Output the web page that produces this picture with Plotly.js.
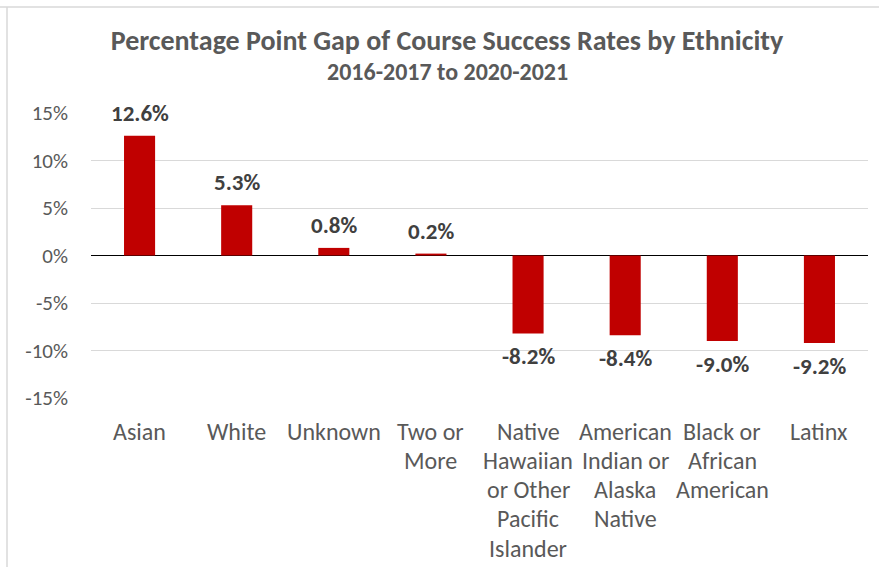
<!DOCTYPE html>
<html>
<head>
<meta charset="utf-8">
<script src="https://cdn.plot.ly/plotly-3.0.1.min.js"></script>
<style>html,body{margin:0;padding:0;background:#fff;}#chart{width:879px;height:567px;}</style>
</head>
<body>
<div id="chart"></div>
<script>
const categories = ["Asian", "White", "Unknown", "Two or More", "Native Hawaiian or Other Pacific Islander", "American Indian or Alaska Native", "Black or African American", "Latinx"];
const categoryLines = [["Asian"], ["White"], ["Unknown"], ["Two or", "More"], ["Native", "Hawaiian", "or Other", "Pacific", "Islander"], ["American", "Indian or", "Alaska", "Native"], ["Black or", "African", "American"], ["Latinx"]];
const gapValues = [12.6, 5.3, 0.8, 0.2, -8.2, -8.4, -9.0, -9.2];
const yTickVals = [-15, -10, -5, 0, 5, 10, 15];
const yTickText = ["-15%", "-10%", "-5%", "0%", "5%", "10%", "15%"];
const titleText = "Percentage Point Gap of Course Success Rates by Ethnicity";
const subtitleText = "2016-2017 to 2020-2021";

const FONT = "Calibri, Carlito, Lato, sans-serif";

const trace = {
  type: "bar",
  x: categories,
  y: gapValues,
  marker: {color: "#C00000"},
  width: 0.32,
  hoverinfo: "skip"
};

const annotations = [];
// data labels
gapValues.forEach((v, i) => {
  annotations.push({
    x: categories[i], xref: "x", y: v, yref: "y",
    yanchor: "middle", yshift: v >= 0 ? 23 : -23,
    text: "<b>" + v.toFixed(1) + "%</b>", showarrow: false,
    font: {family: FONT, size: 23, color: "#404040"}
  });
});
// category labels
categoryLines.forEach((lines, i) => {
  lines.forEach((ln, j) => {
    annotations.push({
      x: categories[i], xref: "x", y: 0, yref: "paper",
      yanchor: "middle", yshift: -33 - j * 29.3,
      text: ln, showarrow: false,
      font: {family: FONT, size: 24, color: "#595959"}
    });
  });
});
// subtitle
annotations.push({
  x: 0.4587, xref: "paper", y: 1.147, yref: "paper", yanchor: "middle",
  text: "<b>" + subtitleText + "</b>", showarrow: false,
  font: {family: FONT, size: 24, color: "#595959"}
});

const layout = {
  width: 879, height: 567,
  margin: {l: 91, r: 11, t: 113, b: 169},
  paper_bgcolor: "#ffffff",
  plot_bgcolor: "#ffffff",
  showlegend: false,
  title: {
    text: "<b>" + titleText + "</b>",
    font: {family: FONT, size: 28, color: "#595959"},
    x: 0.5085, xref: "container", xanchor: "center",
    y: 0.929, yref: "container", yanchor: "middle"
  },
  xaxis: {
    showticklabels: false, showgrid: false, zeroline: false,
    showline: false, ticks: "", fixedrange: true
  },
  yaxis: {
    range: [-15, 15], tickvals: yTickVals, ticktext: yTickText,
    showgrid: true, gridcolor: "#D9D9D9", gridwidth: 1,
    zeroline: true, zerolinecolor: "#000000", zerolinewidth: 1.5,
    tickfont: {family: FONT, size: 21, color: "#595959"},
    ticks: "", ticklabelstandoff: 22, showline: false, fixedrange: true
  },
  annotations: annotations,
  shapes: [
    {type: "line", xref: "paper", yref: "paper", x0: -0.12, x1: 1.02, y0: 1.372, y1: 1.372, line: {color: "#D9D9D9", width: 1.5}},
    {type: "line", xref: "paper", yref: "paper", x0: -0.1081, x1: -0.1081, y0: 1.372, y1: -0.6, line: {color: "#D9D9D9", width: 1.5}}
  ]
};

Plotly.newPlot("chart", [trace], layout, {displayModeBar: false, staticPlot: true});
</script>
</body>
</html>
